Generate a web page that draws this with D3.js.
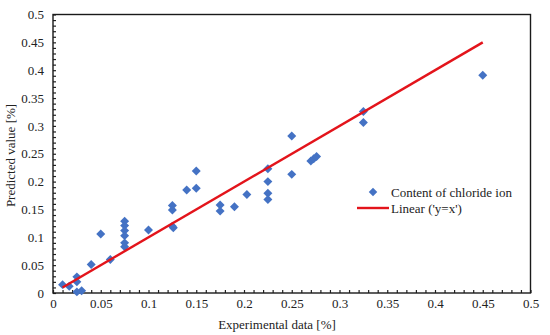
<!DOCTYPE html>
<html>
<head>
<meta charset="utf-8">
<script src="https://cdn.jsdelivr.net/npm/d3@7"></script>
<style>
  html, body { margin: 0; padding: 0; background: #fff; }
  svg { display: block; }
  text { font-family: "Liberation Serif", "Times New Roman", serif; fill: #222; }
</style>
</head>
<body>
<svg id="chart" width="550" height="335"></svg>
<script>
// ---- data ----
const experimental = [0.010, 0.017, 0.025, 0.025, 0.025, 0.030, 0.040, 0.050, 0.060,
  0.075, 0.075, 0.075, 0.075, 0.075, 0.075, 0.100,
  0.125, 0.125, 0.125, 0.126, 0.140, 0.150, 0.150,
  0.175, 0.175, 0.190, 0.203,
  0.225, 0.225, 0.225, 0.225, 0.250, 0.250, 0.270, 0.273, 0.276,
  0.325, 0.325, 0.450];
const predicted = [0.015, 0.012, 0.029, 0.020, 0.002, 0.004, 0.051, 0.106, 0.060,
  0.129, 0.121, 0.112, 0.103, 0.090, 0.083, 0.113,
  0.157, 0.149, 0.120, 0.117, 0.185, 0.188, 0.219,
  0.158, 0.147, 0.155, 0.177,
  0.223, 0.200, 0.179, 0.168, 0.282, 0.213, 0.237, 0.241, 0.245,
  0.326, 0.306, 0.391];
const lineX = [0.01, 0.45];
const tickValues = [0, 0.05, 0.1, 0.15, 0.2, 0.25, 0.3, 0.35, 0.4, 0.45, 0.5];
const tickLabels = ["0", "0.05", "0.1", "0.15", "0.2", "0.25", "0.3", "0.35", "0.4", "0.45", "0.5"];
const seriesName = "Content of chloride ion";
const lineName = "Linear ('y=x')";
const xTitle = "Experimental data [%]";
const yTitle = "Predicted value [%]";

// ---- layout ----
const svg = d3.select("#chart");
const L = 53, R = 530.5, T = 14.5, B = 293;
const x = d3.scaleLinear().domain([0, 0.5]).range([L, R]);
const y = d3.scaleLinear().domain([0, 0.5]).range([B, T]);
const minor = d3.range(0, 0.5001, 0.01);
const FONT = "'Liberation Serif', 'Times New Roman', serif";

// minor ticks (inward)
svg.append("g")
  .attr("transform", `translate(0,${B})`)
  .call(d3.axisTop(x).tickValues(minor).tickSize(3).tickFormat(""))
  .call(g => g.select(".domain").remove())
  .call(g => g.selectAll("line").attr("stroke", "#222").attr("stroke-width", 1.2));
svg.append("g")
  .attr("transform", `translate(${L},0)`)
  .call(d3.axisRight(y).tickValues(minor).tickSize(3).tickFormat(""))
  .call(g => g.select(".domain").remove())
  .call(g => g.selectAll("line").attr("stroke", "#222").attr("stroke-width", 1.2));

// tick labels
svg.append("g")
  .attr("transform", `translate(0,${B})`)
  .call(d3.axisBottom(x).tickValues(tickValues).tickSize(0).tickPadding(6)
    .tickFormat((d, i) => tickLabels[i]))
  .attr("font-family", FONT).attr("font-size", 13)
  .call(g => g.select(".domain").remove())
  .call(g => g.selectAll("text").attr("fill", "#222"));
svg.append("g")
  .attr("transform", `translate(${L},0)`)
  .call(d3.axisLeft(y).tickValues(tickValues).tickSize(0).tickPadding(9)
    .tickFormat((d, i) => tickLabels[i]))
  .attr("font-family", FONT).attr("font-size", 13)
  .call(g => g.select(".domain").remove())
  .call(g => g.selectAll("text").attr("fill", "#222"));

// frame
svg.append("rect")
  .attr("x", L).attr("y", T).attr("width", R - L).attr("height", B - T)
  .attr("fill", "none").attr("stroke", "#1a1a1a").attr("stroke-width", 1.4);

// points
const pts = experimental.map((d, i) => ({ x: d, y: predicted[i] }));
svg.append("g").selectAll("path")
  .data(pts).join("path")
  .attr("d", d3.symbol().type(d3.symbolSquare).size(40))
  .attr("transform", d => `translate(${x(d.x)},${y(d.y)}) rotate(45)`)
  .attr("fill", "#4472c4");

// y=x line
svg.append("path")
  .datum(lineX)
  .attr("d", d3.line().x(d => x(d)).y(d => y(d)))
  .attr("stroke", "#e3141b").attr("stroke-width", 2.4).attr("fill", "none");

// legend
const lg = svg.append("g");
lg.append("path")
  .attr("d", d3.symbol().type(d3.symbolSquare).size(36))
  .attr("transform", "translate(373,192) rotate(45)")
  .attr("fill", "#4472c4");
lg.append("text").attr("x", 391).attr("y", 196.5).style("font-size", "13px").text(seriesName);
lg.append("line").attr("x1", 357).attr("x2", 389).attr("y1", 208).attr("y2", 208)
  .attr("stroke", "#e3141b").attr("stroke-width", 2.4);
lg.append("text").attr("x", 391).attr("y", 212.5).style("font-size", "13px").text(lineName);

// axis titles
svg.append("text").attr("x", 277).attr("y", 329).attr("text-anchor", "middle")
  .style("font-size", "13px").text(xTitle);
svg.append("text").attr("transform", `translate(15,155.5) rotate(-90)`)
  .attr("text-anchor", "middle").style("font-size", "13px").text(yTitle);
</script>
</body>
</html>
